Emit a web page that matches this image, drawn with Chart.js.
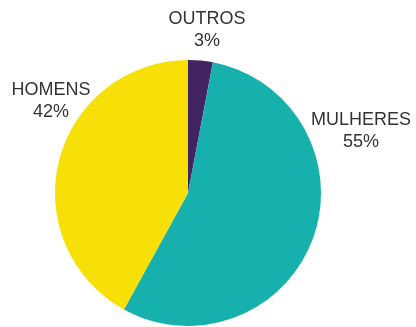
<!DOCTYPE html>
<html>
<head>
<meta charset="utf-8">
<script src="https://cdn.jsdelivr.net/npm/chart.js@4/dist/chart.umd.min.js"></script>
<style>
    html, body { margin: 0; padding: 0; background: #fff; }
    #grafico { display: block; }
</style>
</head>
<body>
<canvas id="grafico" width="416" height="327"></canvas>
<script>
const categorias = ["OUTROS", "MULHERES", "HOMENS"];
const porcentajes = [3, 55, 42];
const colores = ["#432462", "#16b1ac", "#f7e008"];

// posicion de cada etiqueta (centro x, linea base de la primera linea)
const posEtiquetas = [
    { x: 207, y: 23.5 },
    { x: 361, y: 124.5 },
    { x: 51, y: 95 }
];

const etiquetasPlugin = {
    id: "etiquetas",
    afterDraw(chart) {
        const ctx = chart.ctx;
        ctx.save();
        ctx.font = '18px "Liberation Sans", Arial, sans-serif';
        ctx.fillStyle = "#333333";
        ctx.textAlign = "center";
        ctx.textBaseline = "alphabetic";
        categorias.forEach((c, i) => {
            const p = posEtiquetas[i];
            ctx.fillText(c, p.x, p.y);
            ctx.fillText(porcentajes[i] + "%", p.x, p.y + 22);
        });
        ctx.restore();
    }
};

new Chart(document.getElementById("grafico"), {
    type: "pie",
    data: {
        labels: categorias,
        datasets: [{
            data: porcentajes,
            backgroundColor: colores,
            borderWidth: 0
        }]
    },
    options: {
        responsive: false,
        animation: false,
        layout: { padding: { top: 60, bottom: 1, left: 0, right: 40 } },
        plugins: {
            legend: { display: false },
            tooltip: { enabled: false }
        }
    },
    plugins: [etiquetasPlugin]
});
</script>
</body>
</html>
